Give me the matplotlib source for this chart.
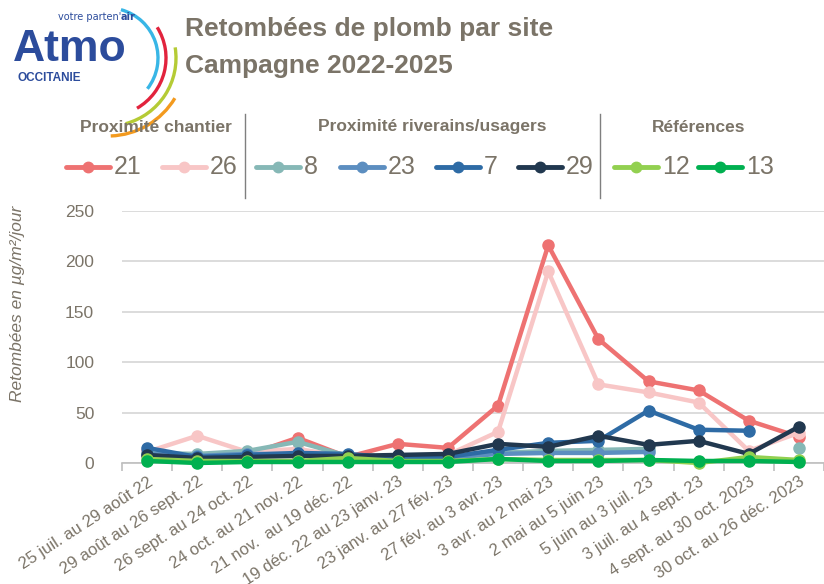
import numpy as np
import matplotlib
matplotlib.use("Agg")
import matplotlib.pyplot as plt
from matplotlib.patches import Arc
from matplotlib.lines import Line2D

nan = np.nan
categories = ["25 juil. au 29 août 22", "29 août au 26 sept. 22", "26 sept. au 24 oct. 22",
              "24 oct. au 21 nov. 22", "21 nov.  au 19 déc. 22", "19 déc. 22 au 23 janv. 23",
              "23 janv. au 27 fév. 23", "27 fév. au 3 avr. 23", "3 avr. au 2 mai 23",
              "2 mai au 5 juin 23", "5 juin au 3 juil. 23", "3 juil. au 4 sept. 23",
              "4 sept. au 30 oct. 2023", "30 oct. au 26 déc. 2023"]
s21 = [12, 5, 8, 25, 6, 19, 15, 57, 216, 123, 81, 72, 42, 26]
s26 = [11, 27, 11, 14, 6, 7, 8, 31, 190, 78, 70, 60, 12, 30]
s8 = [10, 9, 12, 21, 7, 5, 6, 10, 12, 13, 14, nan, nan, 15]
s23 = [9, 7, 9, 9, 7, 4, 5, 9, 10, 10, 11, nan, nan, nan]
s7 = [15, 6, 8, 10, 9, 5, 6, 13, 20, 22, 52, 33, 32, nan]
s29 = [8, 5, 6, 7, 7, 8, 9, 19, 16, 27, 18, 22, 9, 36]
s12 = [4, 2, 2, 2, 5, 2, 2, 4, 3, 3, 3, 0, 6, 3]
s13 = [2, 0, 1, 1, 1, 1, 1, 4, 2, 2, 3, 2, 2, 1]

series_names = ["21", "26", "8", "23", "7", "29", "12", "13"]
series_values = [s21, s26, s8, s23, s7, s29, s12, s13]
colors = ["#EE7272", "#F8C6C6", "#86B8B6", "#5C8EC0", "#2E6BA5", "#21384F", "#92D050", "#00B050"]
group_names = ["Proximité chantier", "Proximité riverains/usagers", "Références"]
yticks = [0, 50, 100, 150, 200, 250]

narrow = ["Liberation Sans Narrow", "Liberation Sans", "DejaVu Sans"]
plt.rcParams['font.family'] = narrow
txt = "#7B7468"

W, H = 824, 584
fig = plt.figure(figsize=(W / 100, H / 100), dpi=100)

def px_axes(l, t, r, b):
    return [l / W, 1 - b / H, (r - l) / W, (b - t) / H]

ax = fig.add_axes(px_axes(122, 211, 824, 463))
x = np.arange(len(categories))
for name, vals, c in zip(series_names, series_values, colors):
    ax.plot(x, vals, color=c, lw=3.2, marker='o', ms=8, solid_capstyle='round',
            solid_joinstyle='round', clip_on=False, zorder=3)

ax.set_xlim(-0.5, -0.5 + (824 - 122) / 50.75)
ax.set_ylim(0, 250)
ax.set_yticks(yticks)
ax.yaxis.grid(True, color="#D9D9D9", lw=1.3)
ax.set_axisbelow(True)
for s in ["top", "right", "left"]:
    ax.spines[s].set_visible(False)
ax.spines["bottom"].set_color("#BFBFBF")
ax.spines["bottom"].set_linewidth(1.2)
ax.tick_params(axis='y', length=0, labelsize=12.5, labelcolor=txt, pad=20)
ax.set_xticks(x)
ax.set_xticklabels(categories, rotation=33, ha='right', rotation_mode='anchor',
                   fontsize=12, color=txt)
ax.tick_params(axis='x', which='major', length=0, pad=8)
ax.set_xticks(np.arange(-0.5, len(categories), 1), minor=True)
ax.tick_params(axis='x', which='minor', length=6, color="#BFBFBF", width=1.2)
fig.text(18 / W, 1 - 304 / H, "Retombées en µg/m²/jour", rotation=90, fontsize=12.5,
         color=txt, style='italic', ha='center', va='center')

# Title
fig.text(185 / W, 1 - 29 / H, "Retombées de plomb par site", fontsize=19, fontweight='bold',
         color=txt, ha='left', va='center')
fig.text(185 / W, 1 - 66 / H, "Campagne 2022-2025", fontsize=19, fontweight='bold',
         color=txt, ha='left', va='center')

# Legend groups
fig.text(156 / W, 1 - 127 / H, group_names[0], fontsize=12.5, fontweight='bold', color=txt,
         ha='center', va='center')
fig.text(432 / W, 1 - 127 / H, group_names[1], fontsize=12.5, fontweight='bold', color=txt,
         ha='center', va='center')
fig.text(699 / W, 1 - 127 / H, group_names[2], fontsize=12.5, fontweight='bold', color=txt,
         ha='center', va='center')
for sx in [245, 600]:
    fig.add_artist(Line2D([sx / W, sx / W], [1 - 114 / H, 1 - 198 / H], color="#7F7F7F", lw=1.0))

leg_x = [66, 162, 256, 340, 436, 518, 614, 698]
leg_y = 1 - 167 / H
for name, c, lx in zip(series_names, colors, leg_x):
    fig.add_artist(Line2D([lx / W, (lx + 44) / W], [leg_y, leg_y], color=c, lw=3.5,
                          solid_capstyle='round'))
    fig.add_artist(Line2D([(lx + 22) / W], [leg_y], color=c, marker='o', ms=7.5, lw=0))
    fig.text((lx + 48) / W, leg_y, name, fontsize=18, color=txt, ha='left', va='center')

# Logo
lax = fig.add_axes(px_axes(0, 0, 180, 150))
lax.set_xlim(0, 180)
lax.set_ylim(150, 0)
lax.axis('off')
blue = "#2C4C9C"
lax.text(13, 61, "Atmo", fontsize=32, fontweight='bold', color=blue, ha='left',
         va='baseline', family=["Liberation Sans", "DejaVu Sans"])
lax.text(17, 78, "OCCITANIE", fontsize=8.5, fontweight='bold', color=blue, ha='left',
         va='center', family=["Liberation Sans", "DejaVu Sans"])
lax.text(121, 17, "votre parten'", fontsize=7, color=blue, ha='right', va='center',
         family=["Liberation Sans Narrow", "DejaVu Sans"])
lax.text(121, 17, "air", fontsize=7, fontweight='bold', color=blue, ha='left', va='center',
         family=["Liberation Sans Narrow", "DejaVu Sans"])
cx, cy = 108, 58
for r, t1, t2, c in [(50, -75, 38, "#38B6E6"), (58, -32, 60, "#E2233D"),
                     (68, -9, 75, "#B5CB35"), (78, 31, 88, "#F39A1E")]:
    lax.add_patch(Arc((cx, cy), 2 * r, 2 * r, theta1=t1, theta2=t2, color=c, lw=2.4))

fig.savefig("out.png", dpi=100)
